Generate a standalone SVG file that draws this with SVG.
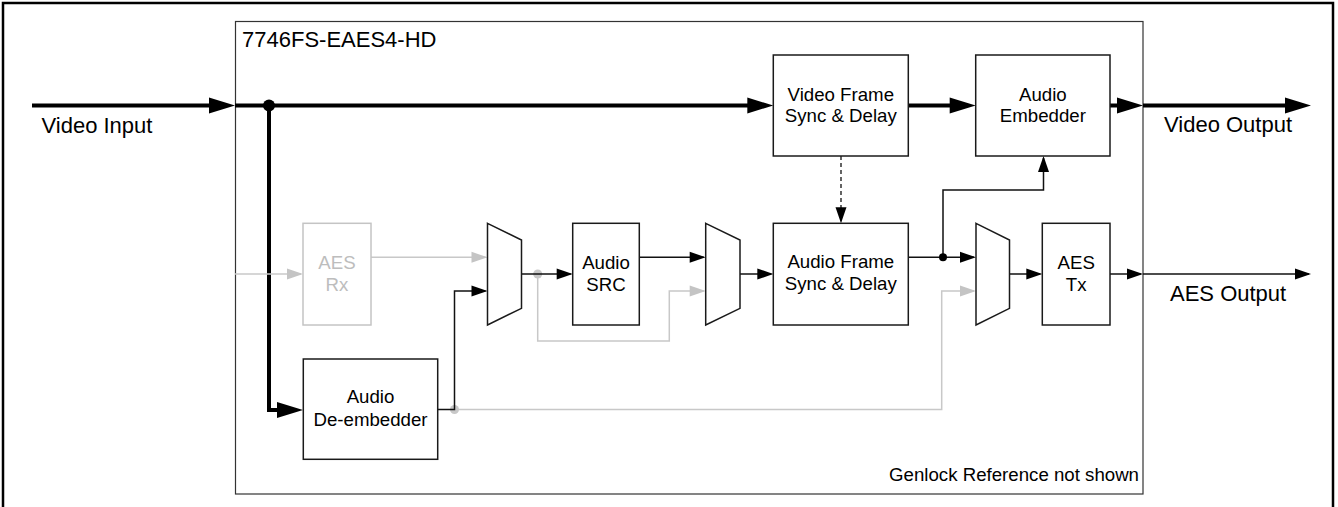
<svg xmlns="http://www.w3.org/2000/svg" width="1338" height="507" viewBox="0 0 1338 507">
<style>
  text { font-family: "Liberation Sans", Arial, sans-serif; fill: #000; }
  .lbl { font-size: 18.67px; text-anchor: middle; }
  .big { font-size: 22px; }
  .cap { font-size: 18.67px; text-anchor: end; }
  .box { fill: #fff; stroke: #1a1a1a; stroke-width: 1.5; }
  .gbox { fill: #fff; stroke: #c4c4c4; stroke-width: 1.5; }
  .glbl { fill: #bdbdbd; }
  .thick { fill: none; stroke: #000; stroke-width: 4; }
  .thin { fill: none; stroke: #111; stroke-width: 1.5; }
  .gray { fill: none; stroke: #c8c8c8; stroke-width: 1.5; }
  .dash { fill: none; stroke: #111; stroke-width: 1.3; stroke-dasharray: 4 3; }
</style>
<defs>
  <marker id="aT" markerUnits="userSpaceOnUse" markerWidth="27" markerHeight="17" refX="18" refY="8" orient="auto" overflow="visible">
    <path d="M0,0 L26,8 L0,16 z" fill="#000"/>
  </marker>
  <marker id="aN" markerUnits="userSpaceOnUse" markerWidth="17" markerHeight="11" refX="14" refY="5.5" orient="auto" overflow="visible">
    <path d="M0,0 L16,5.5 L0,11 z" fill="#000"/>
  </marker>
  <marker id="aG" markerUnits="userSpaceOnUse" markerWidth="17" markerHeight="11" refX="14" refY="5.5" orient="auto" overflow="visible">
    <path d="M0,0 L16,5.5 L0,11 z" fill="#c4c4c4"/>
  </marker>
</defs>

<rect x="3" y="3" width="1330" height="530" fill="#fff" stroke="#000" stroke-width="2.5"/>

<g id="frame">
  <rect x="235.5" y="21.5" width="907.5" height="472.5" fill="none" stroke="#333" stroke-width="1.2"/>
  <text class="big" x="242" y="46.5">7746FS-EAES4-HD</text>
  <text class="cap" x="1139" y="481">Genlock Reference not shown</text>
</g>

<g id="connectors">
  <!-- video path -->
  <path class="thick" d="M32,105.5 H227" marker-end="url(#aT)"/>
  <path class="thick" d="M235,105.5 H765.3" marker-end="url(#aT)"/>
  <path class="thick" d="M269,105.5 V410 H295" marker-end="url(#aT)"/>
  <path class="thick" d="M908.3,105.5 H967.7" marker-end="url(#aT)"/>
  <path class="thick" d="M1110,105.5 H1135" marker-end="url(#aT)"/>
  <path class="thick" d="M1143,105.5 H1303" marker-end="url(#aT)"/>
  <circle cx="269" cy="105.5" r="6" fill="#000"/>

  <!-- gray AES Rx path -->
  <path class="gray" d="M235,274 H301" marker-end="url(#aG)"/>
  <path class="gray" d="M371,257.3 H485.5" marker-end="url(#aG)"/>
  <path class="gray" d="M454.5,409.5 H941.7 V291 H974" marker-end="url(#aG)"/>
  <path class="gray" d="M537.7,274 V341 H669.3 V291 H703.7" marker-end="url(#aG)"/>
  <circle cx="454.5" cy="409.5" r="4.5" fill="#c8c8c8"/>
  <circle cx="537.7" cy="274" r="4.5" fill="#c8c8c8"/>

  <!-- audio path -->
  <path class="thin" d="M437.7,409.5 H454.5 V291 H485.5" marker-end="url(#aN)"/>
  <path class="thin" d="M521.5,274 H570.7" marker-end="url(#aN)"/>
  <path class="thin" d="M639.3,257.3 H703.7" marker-end="url(#aN)"/>
  <path class="thin" d="M740,274 H771.3" marker-end="url(#aN)"/>
  <path class="dash" d="M841,156 V221.3" marker-end="url(#aN)"/>
  <path class="thin" d="M908.3,257.3 H974" marker-end="url(#aN)"/>
  <path class="thin" d="M943,257.3 V190 H1043.5 V158" marker-end="url(#aN)"/>
  <circle cx="943" cy="257.3" r="4" fill="#000"/>
  <path class="thin" d="M1009.5,274 H1040.3" marker-end="url(#aN)"/>
  <path class="thin" d="M1110,274 H1141" marker-end="url(#aN)"/>
  <path class="thin" d="M1143,274 H1309" marker-end="url(#aN)"/>
</g>

<g id="labels">
  <text class="big" x="41.5" y="133.3">Video Input</text>
  <text class="big" x="1164" y="132">Video Output</text>
  <text class="big" x="1170" y="300.5">AES Output</text>
</g>

<g id="video-frame-sync">
  <rect class="box" x="773.3" y="55" width="135" height="101"/>
  <text class="lbl" x="840.8" y="101">Video Frame</text>
  <text class="lbl" x="840.8" y="121.7">Sync &amp; Delay</text>
</g>

<g id="audio-embedder">
  <rect class="box" x="975.7" y="55" width="134.3" height="101"/>
  <text class="lbl" x="1042.9" y="101">Audio</text>
  <text class="lbl" x="1042.9" y="121.7">Embedder</text>
</g>

<g id="aes-rx">
  <rect class="gbox" x="303" y="223.3" width="68" height="101.7"/>
  <text class="lbl glbl" x="337" y="269">AES</text>
  <text class="lbl glbl" x="337" y="290.7">Rx</text>
</g>

<g id="audio-deembedder">
  <rect class="box" x="303.3" y="359" width="134.4" height="100.3"/>
  <text class="lbl" x="370.5" y="403.3">Audio</text>
  <text class="lbl" x="370.5" y="425.7">De-embedder</text>
</g>

<g id="mux1">
  <path class="box" d="M487.5,223.3 L521.5,240 V308.3 L487.5,325 z"/>
</g>

<g id="audio-src">
  <rect class="box" x="572.7" y="223.3" width="66.6" height="101.7"/>
  <text class="lbl" x="606" y="269.3">Audio</text>
  <text class="lbl" x="606" y="291">SRC</text>
</g>

<g id="mux2">
  <path class="box" d="M705.7,223.3 L740,240 V308.3 L705.7,325 z"/>
</g>

<g id="audio-frame-sync">
  <rect class="box" x="773.3" y="223.3" width="135" height="101.7"/>
  <text class="lbl" x="840.8" y="268.3">Audio Frame</text>
  <text class="lbl" x="840.8" y="290">Sync &amp; Delay</text>
</g>

<g id="mux3">
  <path class="box" d="M976,223.3 L1009.5,240 V308.3 L976,325 z"/>
</g>

<g id="aes-tx">
  <rect class="box" x="1042.3" y="223.3" width="67.7" height="101.7"/>
  <text class="lbl" x="1076.2" y="269.3">AES</text>
  <text class="lbl" x="1076.2" y="290.7">Tx</text>
</g>
</svg>
